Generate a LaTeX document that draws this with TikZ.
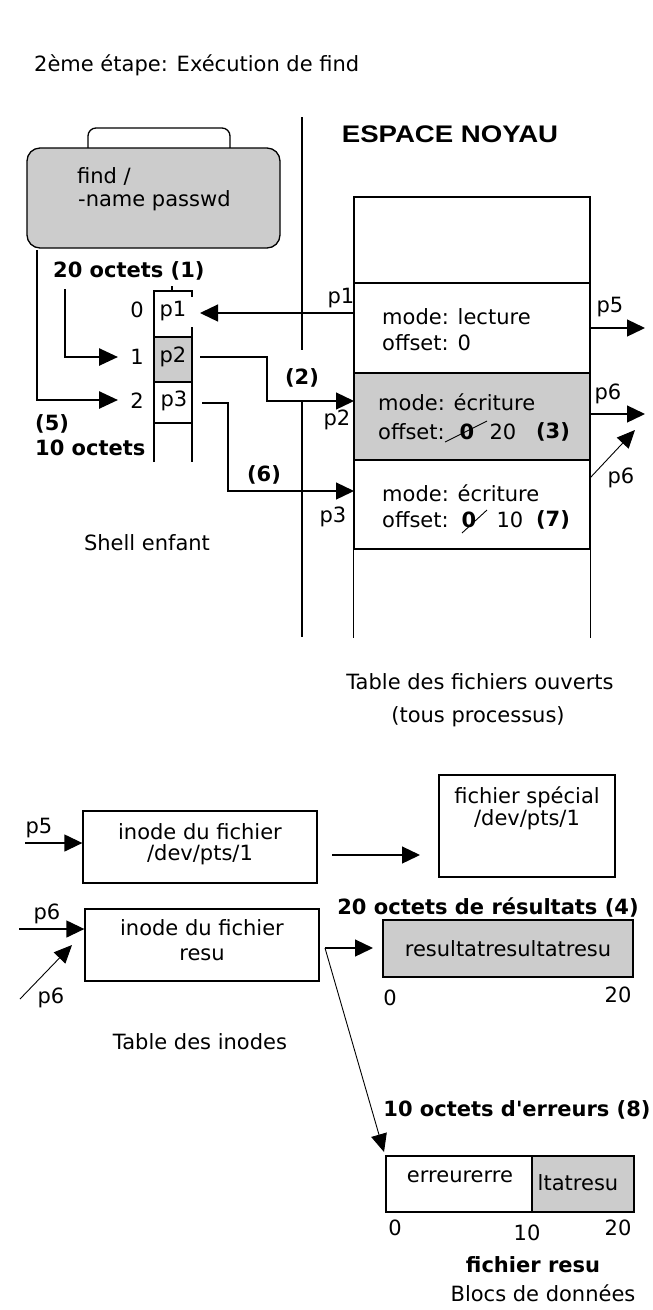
\documentclass[tikz,border=0pt]{standalone}
\usepackage{fontspec}
\newfontfamily\vf{DejaVu Sans}
\newfontfamily\hdfont[FakeStretch=1.15]{Liberation Sans}
\usetikzlibrary{arrows.meta}
\definecolor{cellgray}{HTML}{CCCCCC}
\newcommand\vsz{\fontsize{21}{25}\selectfont}
\begin{document}
\begin{tikzpicture}[x=1pt,y=-1pt,
  ln/.style={line width=1.3pt},
  arr/.style={line width=1.3pt,-{Triangle[length=18pt,width=17pt]}},
  thickarr/.style={line width=2.6pt,-{Triangle[length=19pt,width=17pt]}},
  thinarr/.style={line width=0.9pt,-{Triangle[length=18pt,width=16pt]}},
  txt/.style={inner sep=0pt,font=\vf\vsz},
  btxt/.style={inner sep=0pt,font=\vf\vsz\bfseries},
  cell/.style={draw,line width=1.3pt,minimum width=236pt,inner sep=0pt},
  box/.style={draw,line width=1.3pt,inner sep=0pt}
]
\fill[white] (0,0) rectangle (653,1310);
\useasboundingbox (0,0) rectangle (653,1310);

% title
\node[txt,anchor=west] (title) at (34,65) {2ème étape: Exécution de find};

% process box
\draw[ln,rounded corners=8pt] (88,149) -- (88,128) -- (230,128) -- (230,149);
\node[box,fill=cellgray,rounded corners=13pt,minimum width=253pt,minimum height=100pt] (proc) at (153.5,198) {};
\node[txt,anchor=west] (cmd1) at (77,176) {find /};
\node[txt,anchor=west] (cmd2) at (78,201) {-name passwd};

% separator
\coordinate (sepA) at (302,117);
\coordinate (sepB) at (302,350);
\coordinate (sepC) at (302,400);
\coordinate (sepD) at (302,637);
\draw[ln] (sepA) -- (sepB);
\draw[ln] (sepC) -- (sepD);

% fd table
\fill[cellgray] (154,337) rectangle (192,382);
\draw[ln] (154,462) -- (154,291) -- (192,291) -- (192,297);
\draw[ln] (192,327) -- (192,462);
\draw[ln] (154,337) -- (192,337);
\draw[ln] (154,382) -- (192,382);
\draw[ln] (154,423) -- (192,423);
\draw[ln] (172,291) -- (172,286);
\node[txt] (fd0) at (173,311) {p1};
\node[txt] (fd1) at (173,357) {p2};
\node[txt] (fd2) at (174,401) {p3};
\node[txt] (i0) at (137,310) {0};
\node[txt] (i1) at (137,357) {1};
\node[txt] (i2) at (137,401) {2};

% left arrows
\coordinate (a5s) at (37,250);
\coordinate (a5c) at (37,400);
\coordinate (a5e) at (118,400);
\coordinate (a1s) at (65,289);
\coordinate (a1c) at (65,357);
\coordinate (a1e) at (118,357);
\draw[thickarr] (a5s) -- (a5c) -- (a5e);
\draw[thickarr] (a1s) -- (a1c) -- (a1e);
\node[btxt,anchor=west] (l1) at (53,271) {20 octets (1)};
\node[btxt,anchor=west] (l5) at (35,424) {(5)};
\node[btxt,anchor=west] (l5b) at (35,448) {10 octets};

\node[txt] (shell) at (147,543) {Shell enfant};

% kernel
\node[inner sep=0pt,font=\hdfont\fontsize{24}{28}\selectfont\bfseries] (noyau) at (450,134) {ESPACE NOYAU};
\node[cell,minimum height=86pt] (k0) at (472,240) {};
\node[cell,minimum height=90pt] (k1) at (472,328) {};
\node[cell,fill=cellgray,minimum height=87pt] (k2) at (472,416.5) {};
\node[cell,minimum height=89pt] (k3) at (472,504.5) {};
\draw[ln] (k3.south west) -- ++(0,88);
\draw[ln] (k3.south east) -- ++(0,88);

\node[txt,anchor=west] (k1m) at (382,317) {mode: lecture};
\node[txt,anchor=west] (k1o) at (382,343) {offset: 0};
\node[txt,anchor=west] (k2m) at (378,402) {mode: écriture};
\node[txt,anchor=west] (k2o) at (378,432) {offset:};
\node[btxt] (k2z) at (467,432) {0};
\draw[line width=0.9pt] (445,442) -- (487,421);
\node[txt] (k2n) at (503,432) {20};
\node[btxt] (k2s) at (553,432) {(3)};
\node[txt,anchor=west] (k3m) at (382,493) {mode: écriture};
\node[txt,anchor=west] (k3o) at (382,520) {offset:};
\node[btxt] (k3z) at (469,520) {0};
\draw[line width=0.9pt] (462,533) -- (487,510);
\node[txt] (k3n) at (510,520) {10};
\node[btxt] (k3s) at (553,520) {(7)};

% arrows kernel <-> fd
\coordinate (p1s) at (354,313);
\coordinate (p1e) at (200,313);
\draw[arr] (p1s) -- (p1e);
\coordinate (p2s) at (200,357);
\coordinate (p2t) at (354,401);
\draw[arr] (p2s) -| (267,401) -- (p2t);
\coordinate (p3s) at (202,403);
\coordinate (p3t) at (354,491);
\draw[arr] (p3s) -| (228,491) -- (p3t);
\node[txt] (lp1) at (341,298) {p1};
\node[txt] (lp2) at (337,420) {p2};
\node[txt] (lp3) at (333,517) {p3};
\node[btxt] (l2) at (302,378) {(2)};
\node[btxt] (l6) at (264,475) {(6)};

% right arrows
\coordinate (p5e) at (645,328);
\draw[arr] (k1.east) -- (p5e);
\coordinate (p6s) at (590,414);
\coordinate (p6e) at (645,414);
\draw[arr] (p6s) -- (p6e);
\coordinate (p6ds) at (590,478);
\coordinate (p6de) at (635,430);
\draw[thinarr] (p6ds) -- (p6de);
\node[txt] (lp5) at (610,307) {p5};
\node[txt] (lp6) at (608,394) {p6};
\node[txt] (lp6b) at (621,478) {p6};

\node[txt] (tfo1) at (480,682) {Table des fichiers ouverts};
\node[txt] (tfo2) at (478,717) {(tous processus)};

% inode table
\node[box,minimum width=234pt,minimum height=72pt] (ino1) at (200,847) {};
\node[txt] (ino1a) at (200,832) {inode du fichier};
\node[txt] (ino1b) at (200,855) {/dev/pts/1};
\node[box,minimum width=234pt,minimum height=72pt] (ino2) at (202,945) {};
\node[txt] (ino2a) at (202,928) {inode du fichier};
\node[txt] (ino2b) at (202,955) {resu};
\coordinate (ip5s) at (25,843);
\draw[arr] (ip5s) -- (ino1.west |- ip5s);
\node[txt] (lip5) at (39,828) {p5};
\coordinate (ip6s) at (19,929);
\draw[arr] (ip6s) -- (ino2.west |- ip6s);
\node[txt] (lip6) at (47,914) {p6};
\coordinate (ip6ds) at (20,999);
\coordinate (ip6de) at (72,945);
\draw[thinarr] (ip6ds) -- (ip6de);
\node[txt] (lip6b) at (51,998) {p6};
\node[txt] (tdi) at (200,1042) {Table des inodes};

% special file
\node[box,minimum width=176pt,minimum height=102pt] (spec) at (527,826) {};
\node[txt] (speca) at (527,797) {fichier spécial};
\node[txt] (specb) at (527,820) {/dev/pts/1};
\coordinate (sps) at (332,855);
\coordinate (spe) at (420,855);
\draw[arr] (sps) -- (spe);

% data blocks
\node[btxt] (l4) at (488,907) {20 octets de résultats (4)};
\node[box,fill=cellgray,minimum width=250pt,minimum height=57pt] (data) at (508,948.5) {};
\node[txt] (datat) at (508,949) {resultatresultatresu};
\node[txt] (d0) at (390,998) {0};
\node[txt] (d20) at (618,995) {20};
\coordinate (ds) at (325,948);
\coordinate (dm) at (373,948);
\draw[arr] (ds) -- (dm);
\coordinate (de) at (384,1152);
\draw[thinarr] (ds) -- (de);

\node[btxt] (l8) at (517,1110) {10 octets d'erreurs (8)};
\node[box,minimum width=146pt,minimum height=56pt] (err1) at (459,1184) {};
\node[box,fill=cellgray,minimum width=102pt,minimum height=56pt] (err2) at (583,1184) {};
\node[txt] (err1t) at (460,1177) {erreurerre};
\node[txt] (err2t) at (578,1183) {ltatresu};
\node[txt] (e0) at (395,1228) {0};
\node[txt] (e10) at (527,1233) {10};
\node[txt] (e20) at (618,1228) {20};
\node[btxt] (fr) at (533,1265) {fichier resu};
\node[txt] (bd) at (543,1293) {Blocs de données};
\end{tikzpicture}
\end{document}
